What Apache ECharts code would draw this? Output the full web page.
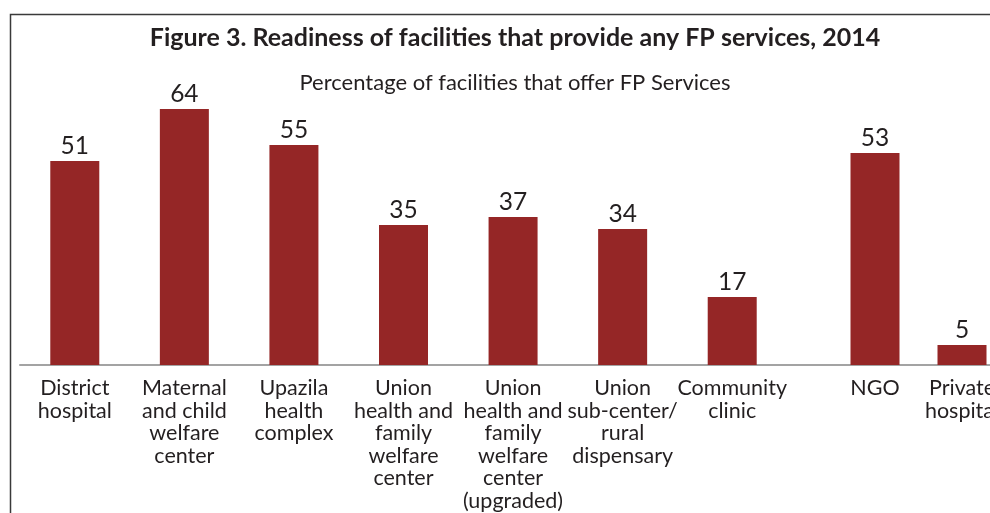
<!DOCTYPE html>
<html>
<head>
<meta charset="utf-8">
<script src="https://cdn.jsdelivr.net/npm/echarts@6/dist/echarts.min.js"></script>
<style>html,body{margin:0;padding:0;background:#fff}#c{width:990px;height:513px}</style>
</head>
<body>
<div id="c"></div>
<script>
var publicCategories = [
  "District\nhospital",
  "Maternal\nand child\nwelfare\ncenter",
  "Upazila\nhealth\ncomplex",
  "Union\nhealth and\nfamily\nwelfare\ncenter",
  "Union\nhealth and\nfamily\nwelfare\ncenter\n(upgraded)",
  "Union\nsub-center/\nrural\ndispensary",
  "Community\nclinic"
];
var publicValues = [51, 64, 55, 35, 37, 34, 17];
var otherCategories = ["", "NGO", "Private\nhospital"];
var otherValues = [null, 53, 5];
var titleText = "Figure 3. Readiness of facilities that provide any FP services, 2014";
var subtitleText = "Percentage of facilities that offer FP Services";

var FONT = "Lato, 'Open Sans', sans-serif";
var TXT = "#231f20";
var BAR = "#952626";

var chart = echarts.init(document.getElementById('c'), null, {renderer: 'canvas'});

function xAxisCfg(idx, cats) {
  return {
    type: 'category', gridIndex: idx, data: cats,
    axisLine: {show: true, lineStyle: {color: '#a3a3a3', width: 2}},
    axisTick: {show: false},
    axisLabel: {interval: 0, color: TXT, fontFamily: FONT, fontSize: 21.5, lineHeight: 22.5, margin: 12}
  };
}
function yAxisCfg(idx) {
  return {type: 'value', gridIndex: idx, min: 0, max: 70, show: false, splitLine: {show: false}};
}
function seriesCfg(idx, vals) {
  return {
    type: 'bar', xAxisIndex: idx, yAxisIndex: idx, data: vals, barWidth: 49,
    itemStyle: {color: BAR},
    label: {show: true, position: 'top', distance: 2, color: TXT, fontFamily: FONT, fontSize: 24.5},
    animation: false
  };
}

chart.setOption({
  animation: false,
  title: [
    {text: titleText, left: 510, top: 20, textAlign: 'center',
     textStyle: {fontFamily: FONT, fontWeight: 'bold', fontSize: 25, color: TXT}},
    {text: subtitleText, left: 510, top: 67, textAlign: 'center',
     textStyle: {fontFamily: FONT, fontWeight: 'normal', fontSize: 22, color: TXT}}
  ],
  graphic: [{
    type: 'rect', shape: {x: 10.5, y: 14.5, width: 1000, height: 600},
    style: {fill: 'none', stroke: '#3a3a3a', lineWidth: 1.5}, silent: true
  }],
  grid: [
    {left: 20, width: 767, top: 85, bottom: 148, outerBoundsMode: 'none', containLabel: false},
    {left: 744.5, width: 261, top: 85, bottom: 148, outerBoundsMode: 'none', containLabel: false}
  ],
  xAxis: [xAxisCfg(0, publicCategories), xAxisCfg(1, otherCategories)],
  yAxis: [yAxisCfg(0), yAxisCfg(1)],
  series: [seriesCfg(0, publicValues), seriesCfg(1, otherValues)]
});
</script>
</body>
</html>
